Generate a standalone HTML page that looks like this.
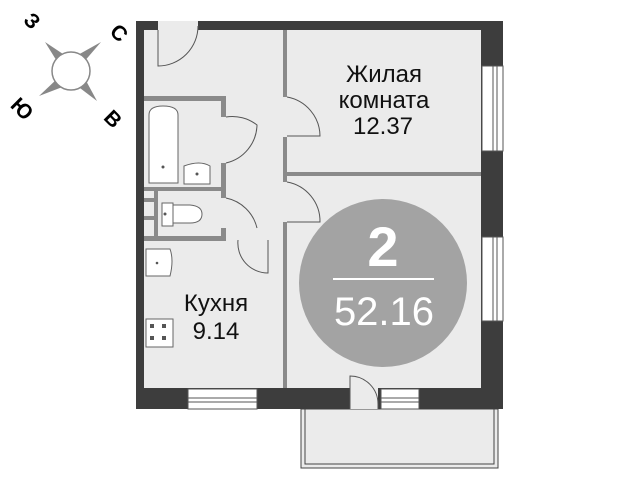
<!DOCTYPE html>
<html><head><meta charset="utf-8"><style>body{margin:0;background:#fff}svg{display:block}</style></head><body>
<svg width="640" height="480" viewBox="0 0 640 480" xmlns="http://www.w3.org/2000/svg" font-family="Liberation Sans, sans-serif">
<!-- compass -->
<g fill="#888">
<polygon points="45,42 66,56 58,63"/>
<polygon points="101,42 83,63 76,56"/>
<polygon points="39,96 58,78 65,86"/>
<polygon points="97,101 76,85 84,77"/>
</g>
<circle cx="71" cy="71" r="19" fill="#fff" stroke="#888" stroke-width="1.5"/>
<g font-weight="bold" font-size="21" fill="#000" text-anchor="middle">
<text x="32" y="28" transform="rotate(45 32 21)">З</text>
<text x="119" y="40" transform="rotate(45 119 33)">С</text>
<text x="22" y="116" transform="rotate(45 22 109)">Ю</text>
<text x="113" y="126" transform="rotate(45 113 119)">В</text>
</g>
<!-- interior -->
<rect x="136" y="21" width="367" height="388" fill="#ebebeb"/>
<!-- balcony -->
<rect x="301" y="409" width="197" height="59" fill="#ebebeb" stroke="#444" stroke-width="1"/>
<rect x="305" y="409" width="189" height="55" fill="none" stroke="#444" stroke-width="1"/>
<!-- outer walls -->
<g fill="#3d3d3d">
<rect x="136" y="21" width="8" height="388"/>
<rect x="136" y="21" width="367" height="9"/>
<rect x="481" y="21" width="22" height="388"/>
<rect x="136" y="388" width="367" height="21"/>
</g>
<rect x="158" y="21" width="40" height="9" fill="#ebebeb"/>
<path d="M158,30 L158,66 A40,40 0 0 0 198,26" fill="none" stroke="#555" stroke-width="1"/>
<g fill="#fff" stroke="#555" stroke-width="1">
<rect x="482" y="66" width="21" height="85"/>
<rect x="482" y="237" width="21" height="84"/>
<rect x="188" y="389" width="69" height="20"/>
<rect x="381" y="389" width="38" height="20"/>
</g>
<g stroke="#555" stroke-width="1">
<line x1="493" y1="66" x2="493" y2="151"/><line x1="497" y1="66" x2="497" y2="151"/>
<line x1="493" y1="237" x2="493" y2="321"/><line x1="497" y1="237" x2="497" y2="321"/>
<line x1="188" y1="398" x2="257" y2="398"/><line x1="188" y1="402" x2="257" y2="402"/>
<line x1="381" y1="398" x2="419" y2="398"/><line x1="381" y1="402" x2="419" y2="402"/>
</g>
<rect x="350" y="388" width="28" height="21" fill="#ebebeb"/>
<path d="M350,409 L350,376 A28,28 0 0 1 378,404 L378,409" fill="none" stroke="#555" stroke-width="1"/>
<!-- partitions -->
<g fill="#8a8a8a">
<rect x="283" y="30" width="4" height="67"/>
<rect x="283" y="137" width="4" height="45"/>
<rect x="283" y="222" width="4" height="166"/>
<rect x="287" y="172" width="194" height="4"/>
<rect x="144" y="96" width="82" height="5"/>
<rect x="221" y="96" width="5" height="21"/>
<rect x="221" y="163" width="5" height="35"/>
<rect x="144" y="187" width="82" height="4"/>
<rect x="144" y="198" width="10" height="4"/>
<rect x="144" y="216" width="10" height="4"/>
<rect x="154" y="190" width="4" height="50"/>
<rect x="144" y="236" width="82" height="5"/>
<rect x="221" y="228" width="5" height="12"/>
</g>
<g fill="none" stroke="#555" stroke-width="1">
<path d="M287,97 A40,40 0 0 1 320,136 L287,136"/>
<path d="M287,182 A40,40 0 0 1 320,222 L287,222"/>
<path d="M226,117 A40,40 0 0 1 257,125 A40,40 0 0 1 226,163"/>
<path d="M226,198 A40,40 0 0 1 257,228"/>
<path d="M238,240 A30,30 0 0 0 268,273 L268,240"/>
</g>
<g fill="#fff" stroke="#666" stroke-width="1">
<path d="M149,183 L149,115 Q149,106 163,106 Q178,106 178,115 L178,183 Z"/>
<path d="M184,184 L184,166 Q200,160 210,166 L210,184 Z"/>
<rect x="162" y="203" width="11" height="23"/>
<path d="M173,205 L190,205 Q202,206 202,214 Q202,223 190,223 L173,223 Z"/>
<path d="M146,249 L170,249 Q174,260 170,276 L146,276 Z"/>
<rect x="146" y="319" width="27" height="28"/>
</g>
<g fill="#555"><circle cx="163" cy="167" r="1.5"/><circle cx="197" cy="174" r="1.5"/><circle cx="165" cy="214" r="1.5"/><circle cx="157" cy="263" r="1.3"/>
<rect x="150" y="324" width="4" height="4"/><rect x="162" y="324" width="4" height="4"/><rect x="150" y="336" width="4" height="4"/><rect x="162" y="336" width="4" height="4"/></g>
<circle cx="383" cy="283" r="84" fill="#a3a3a3"/>
<line x1="333" y1="279" x2="434" y2="279" stroke="#fff" stroke-width="2"/>
<text x="383" y="266" font-size="56" font-weight="bold" fill="#fff" text-anchor="middle">2</text>
<text x="384" y="325" font-size="40" fill="#fff" text-anchor="middle">52.16</text>
<g font-size="24" fill="#111" text-anchor="middle">
<text x="384" y="82">Жилая</text>
<text x="384" y="108">комната</text>
<text x="383" y="134">12.37</text>
<text x="216" y="311">Кухня</text>
<text x="216" y="339">9.14</text>
</g>
</svg>
</body></html>
